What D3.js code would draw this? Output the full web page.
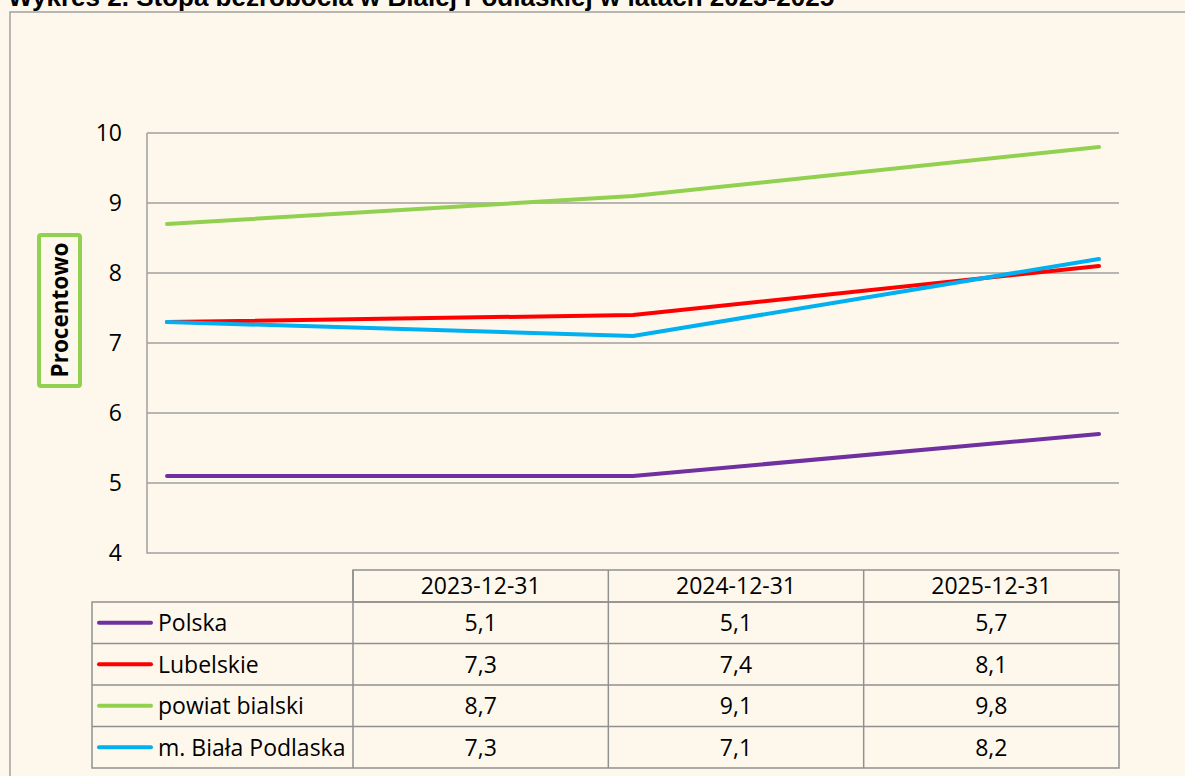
<!DOCTYPE html>
<html lang="pl">
<head>
    <meta charset="UTF-8">
    <script src="https://cdnjs.cloudflare.com/ajax/libs/d3/7.8.5/d3.min.js"></script>
    <title>Stopa bezrobocia</title>
    <style>
        body { margin: 0; background: #fef8ec; }
        svg text { font-family: "Open Sans", "Noto Sans", sans-serif; fill: #000; }
    </style>
</head>
<body>
<svg id="chart" width="1185" height="776"></svg>
<script>
    // data
    var dates = ['2023-12-31', '2024-12-31', '2025-12-31'];
    var seriesNames = ['Polska', 'Lubelskie', 'powiat bialski', 'm. Biała Podlaska'];
    var seriesColors = ['#7030a0', '#ff0000', '#92d050', '#00b0f0'];
    var polska = [5.1, 5.1, 5.7];
    var lubelskie = [7.3, 7.4, 8.1];
    var powiatBialski = [8.7, 9.1, 9.8];
    var bialaPodlaska = [7.3, 7.1, 8.2];
    var yTicks = [4, 5, 6, 7, 8, 9, 10];

    var series = [polska, lubelskie, powiatBialski, bialaPodlaska].map(function(v, i) {
        return { name: seriesNames[i], color: seriesColors[i], values: v };
    });

    var svg = d3.select('#chart');
    var fs = '23px';

    // frame + title
    svg.append('rect')
        .attr('x', 10).attr('y', 12)
        .attr('width', 1300).attr('height', 900)
        .attr('fill', '#fef8ec')
        .attr('stroke', '#a0a0a0').attr('stroke-width', 1.5);

    svg.append('text')
        .attr('x', 8).attr('y', 6)
        .style('font-family', '"Liberation Sans", Arial, sans-serif')
        .style('font-weight', 'bold')
        .style('font-size', '26px')
        .text('Wykres 2. Stopa bezrobocia w Białej Podlaskiej w latach 2023-2025');

    // plot area
    var plot = { left: 147, right: 1119, top: 133, bottom: 553 };

    var y = d3.scaleLinear().domain([4, 10]).range([plot.bottom, plot.top]);
    var x = d3.scalePoint().domain(dates).range([167, 1099]);

    svg.append('g').selectAll('line')
        .data(yTicks.filter(function(d) { return d > 4; }))
        .enter().append('line')
        .attr('x1', plot.left).attr('x2', plot.right)
        .attr('y1', function(d) { return y(d); })
        .attr('y2', function(d) { return y(d); })
        .attr('stroke', '#a0a0a0').attr('stroke-width', 1.5);

    // left + bottom axis lines
    svg.append('path')
        .attr('d', 'M' + plot.left + ',' + plot.top + 'V' + plot.bottom + 'H' + plot.right)
        .attr('fill', 'none')
        .attr('stroke', '#a0a0a0').attr('stroke-width', 1.5);

    svg.append('g').selectAll('text')
        .data(yTicks)
        .enter().append('text')
        .attr('x', 122)
        .attr('y', function(d) { return y(d); })
        .attr('dy', '0.36em')
        .attr('text-anchor', 'end')
        .style('font-size', fs)
        .text(function(d) { return d; });

    // y axis title
    svg.append('rect')
        .attr('x', 39).attr('y', 235)
        .attr('width', 41).attr('height', 151)
        .attr('rx', 2)
        .attr('fill', '#fef8ec')
        .attr('stroke', '#92d050').attr('stroke-width', 4);

    svg.append('text')
        .attr('transform', 'translate(59.5,310) rotate(-90)')
        .attr('text-anchor', 'middle')
        .attr('dy', '0.36em')
        .style('font-size', '22.5px')
        .style('font-weight', 'bold')
        .text('Procentowo');

    // lines
    var line = d3.line()
        .x(function(d, i) { return x(dates[i]); })
        .y(function(d) { return y(d); });

    svg.append('g').selectAll('path')
        .data(series)
        .enter().append('path')
        .attr('d', function(d) { return line(d.values); })
        .attr('fill', 'none')
        .attr('stroke', function(d) { return d.color; })
        .attr('stroke-width', 4)
        .attr('stroke-linecap', 'round')
        .attr('stroke-linejoin', 'round');

    // data table
    var tbl = { left: 92, split: 353, right: 1119, top: 570, head: 602, bottom: 768 };
    var colX = d3.scaleBand().domain(dates).range([tbl.split, tbl.right]);
    var rowY = d3.scaleBand().domain(seriesNames).range([tbl.head, tbl.bottom]);
    var table = svg.append('g');
    var border = '#909090';

    table.append('rect')
        .attr('x', tbl.split).attr('y', tbl.top)
        .attr('width', tbl.right - tbl.split).attr('height', tbl.head - tbl.top)
        .attr('fill', 'none').attr('stroke', border).attr('stroke-width', 1.5);
    table.append('rect')
        .attr('x', tbl.left).attr('y', tbl.head)
        .attr('width', tbl.right - tbl.left).attr('height', tbl.bottom - tbl.head)
        .attr('fill', 'none').attr('stroke', border).attr('stroke-width', 1.5);

    table.selectAll('.vline')
        .data(dates)
        .enter().append('line')
        .attr('class', 'vline')
        .attr('x1', function(d) { return colX(d); })
        .attr('x2', function(d) { return colX(d); })
        .attr('y1', tbl.top).attr('y2', tbl.bottom)
        .attr('stroke', border).attr('stroke-width', 1.5);

    table.selectAll('.hline')
        .data(seriesNames.slice(1))
        .enter().append('line')
        .attr('class', 'hline')
        .attr('x1', tbl.left).attr('x2', tbl.right)
        .attr('y1', function(d) { return rowY(d); })
        .attr('y2', function(d) { return rowY(d); })
        .attr('stroke', border).attr('stroke-width', 1.5);

    table.selectAll('.head')
        .data(dates)
        .enter().append('text')
        .attr('class', 'head')
        .attr('x', function(d) { return colX(d) + colX.bandwidth() / 2; })
        .attr('y', (tbl.top + tbl.head) / 2)
        .attr('dy', '0.36em')
        .attr('text-anchor', 'middle')
        .style('font-size', fs)
        .text(function(d) { return d; });

    var rows = table.selectAll('.row')
        .data(series)
        .enter().append('g')
        .attr('class', 'row')
        .attr('transform', function(d) {
            return 'translate(0,' + (rowY(d.name) + rowY.bandwidth() / 2) + ')';
        });

    rows.append('line')
        .attr('x1', 99).attr('x2', 151)
        .attr('stroke', function(d) { return d.color; })
        .attr('stroke-width', 4)
        .attr('stroke-linecap', 'round');

    rows.append('text')
        .attr('x', 158)
        .attr('dy', '0.36em')
        .style('font-size', fs)
        .text(function(d) { return d.name; });

    rows.selectAll('.val')
        .data(function(d) { return d.values; })
        .enter().append('text')
        .attr('class', 'val')
        .attr('x', function(d, i) { return colX(dates[i]) + colX.bandwidth() / 2; })
        .attr('dy', '0.36em')
        .attr('text-anchor', 'middle')
        .style('font-size', fs)
        .text(function(d) { return String(d).replace('.', ','); });
</script>
</body>
</html>
